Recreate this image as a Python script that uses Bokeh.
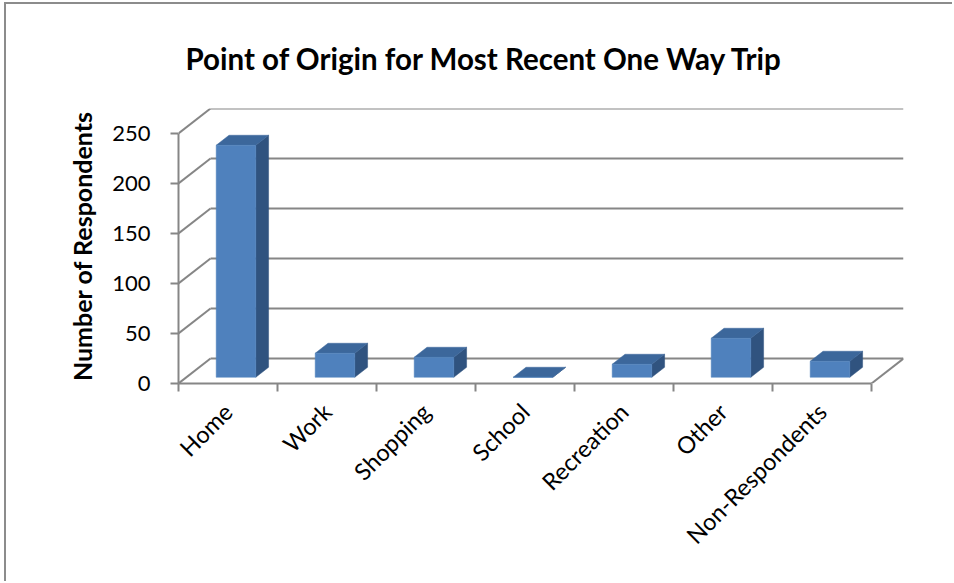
import numpy as np
from bokeh.plotting import figure
from bokeh.models import Range1d, FixedTicker, Title
from bokeh.embed import file_html
from bokeh.resources import INLINE

# ---- data ----
categories = ["Home", "Work", "Shopping", "School", "Recreation", "Other", "Non-Respondents"]
respondents = [232, 24, 20, 0, 13, 39, 16]
y_ticks = [0, 50, 100, 150, 200, 250]
title_text = "Point of Origin for Most Recent One Way Trip"
y_label = "Number of Respondents"

# ---- 3D geometry (oblique projection) ----
DX = 32 / 99   # depth offset, category units
DY = 25        # depth offset, value units
F0 = 0.25      # bar front position in depth
BD = 0.40      # bar depth (fraction of full depth)
BW = 0.40      # bar width (category units)
n = len(categories)
YMAX = y_ticks[-1]

GRID = "#868686"
FRONT = "#4F81BD"
TOP = "#3C679B"
SIDE = "#30537F"
FONT = "Lato"

p = figure(width=948, height=579,
           x_range=Range1d(0, n + DX), y_range=Range1d(0, YMAX + DY),
           output_backend="svg", toolbar_location=None,
           min_border_left=172, min_border_right=51,
           min_border_top=104, min_border_bottom=200)
p.styles = {"margin-left": "4px", "margin-top": "2px",
            "border-left": "2px solid #8c8c8c", "border-top": "2px solid #8c8c8c"}
p.outline_line_color = None
p.xgrid.visible = False
p.ygrid.visible = False
p.background_fill_color = "white"

p.title = Title(text=title_text, align="left", offset=7, standoff=66,
                text_font=FONT, text_font_size="29.5px", text_font_style="bold",
                text_color="black")

# back wall gridlines
p.segment(x0=[DX] * len(y_ticks), y0=[v + DY for v in y_ticks],
          x1=[n + DX] * len(y_ticks), y1=[v + DY for v in y_ticks],
          line_color=GRID, line_width=2)
# side wall diagonals
p.segment(x0=[0] * len(y_ticks), y0=y_ticks,
          x1=[DX] * len(y_ticks), y1=[v + DY for v in y_ticks],
          line_color=GRID, line_width=2)
# floor right edge
p.segment(x0=[n], y0=[0], x1=[n + DX], y1=[DY], line_color=GRID, line_width=2)

# bars
fx, fy, tx, ty, sx, sy = [], [], [], [], [], []
for i, v in enumerate(respondents):
    x0 = i + 0.5 - BW / 2 + F0 * DX
    x1 = x0 + BW
    y0 = F0 * DY
    y1 = y0 + v
    ddx, ddy = BD * DX, BD * DY
    fx.append([x0, x1, x1, x0]); fy.append([y0, y0, y1, y1])
    tx.append([x0, x1, x1 + ddx, x0 + ddx]); ty.append([y1, y1, y1 + ddy, y1 + ddy])
    sx.append([x1, x1 + ddx, x1 + ddx, x1]); sy.append([y0, y0 + ddy, y1 + ddy, y1])

p.patches(xs=sx, ys=sy, fill_color=SIDE, line_color=SIDE, line_width=0.5)
p.patches(xs=tx, ys=ty, fill_color=TOP, line_color=TOP, line_width=0.5)
p.patches(xs=fx, ys=fy, fill_color=FRONT, line_color=FRONT, line_width=0.5)

# y axis
ya = p.yaxis[0]
ya.ticker = FixedTicker(ticks=y_ticks)
ya.bounds = (0, YMAX)
ya.axis_line_color = GRID
ya.axis_line_width = 2
ya.major_tick_line_color = GRID
ya.major_tick_line_width = 2
ya.major_tick_out = 8
ya.major_tick_in = 0
ya.minor_tick_line_color = None
ya.major_label_text_font = FONT
ya.major_label_text_font_size = "22px"
ya.major_label_text_color = "black"
ya.major_label_standoff = 20
ya.axis_label = y_label
ya.axis_label_text_font = FONT
ya.axis_label_text_font_size = "25px"
ya.axis_label_text_font_style = "bold"
ya.axis_label_text_color = "black"
ya.axis_label_standoff = 12

# x axis
xa = p.xaxis[0]
centers = [i + 0.5 for i in range(n)]
xa.ticker = FixedTicker(ticks=centers, minor_ticks=list(range(n + 1)))
xa.major_label_overrides = {c: lab for c, lab in zip(centers, categories)}
xa.bounds = (0, n)
xa.axis_line_color = GRID
xa.axis_line_width = 2
xa.major_tick_line_color = None
xa.major_tick_out = 0
xa.major_tick_in = 0
xa.minor_tick_line_color = GRID
xa.minor_tick_line_width = 2
xa.minor_tick_out = 8
xa.minor_tick_in = 0
xa.major_label_orientation = np.pi / 4
xa.major_label_text_font = FONT
xa.major_label_text_font_size = "23.5px"
xa.major_label_text_color = "black"
xa.major_label_standoff = 16

open("out.html", "w").write(file_html(p, INLINE))
